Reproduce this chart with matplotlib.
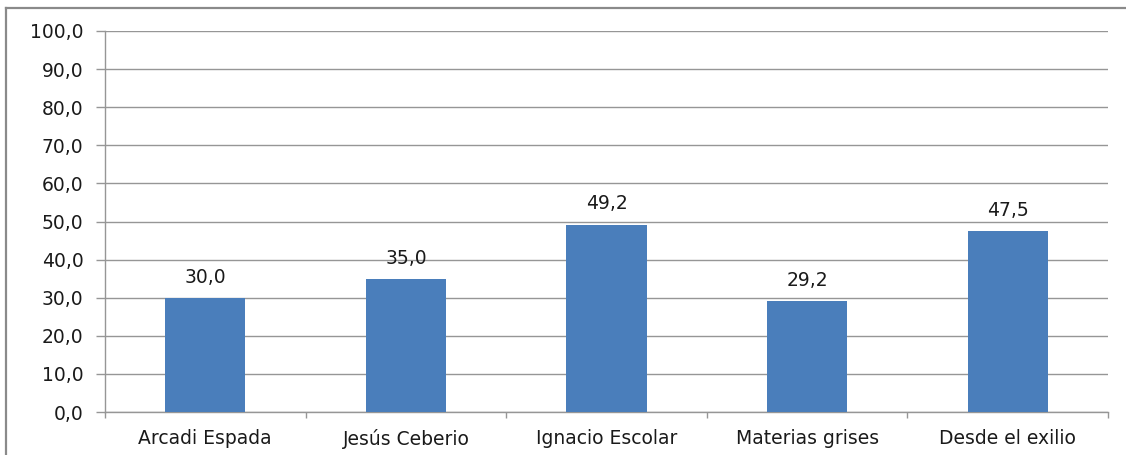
import matplotlib.pyplot as plt
from matplotlib.lines import Line2D
import numpy as np

categories = ["Arcadi Espada", "Jesús Ceberio", "Ignacio Escolar", "Materias grises", "Desde el exilio"]
values = [30.0, 35.0, 49.2, 29.2, 47.5]
yticks = [0, 10, 20, 30, 40, 50, 60, 70, 80, 90, 100]

def fmt(v):
    return f"{v:.1f}".replace(".", ",")

plt.rcParams['font.family'] = ['DejaVu Sans']
fig = plt.figure(figsize=(11.26, 4.55), dpi=100)
ax = fig.add_axes([105 / 1126, 1 - 412 / 455, (1108 - 105) / 1126, (412 - 31) / 455])

grid_c = "#969696"
text_c = "#1a1a1a"
fs = 13.5
x = np.arange(len(categories))
ax.bar(x, values, width=0.4, color="#4a7ebb", zorder=3)

for xi, v in zip(x, values):
    ax.annotate(fmt(v), (xi, v), xytext=(0, 8), textcoords="offset points",
                ha="center", va="bottom", fontsize=fs, color=text_c)

ax.set_xlim(-0.5, len(categories) - 0.5)
ax.set_ylim(0, 100)
ax.set_yticks(yticks)
ax.set_yticklabels([fmt(t) for t in yticks])
ax.yaxis.grid(True, color=grid_c, linewidth=1, zorder=0)

ax.set_xticks(x)
ax.set_xticklabels(categories)
ax.set_xticks(np.arange(len(categories) + 1) - 0.5, minor=True)
ax.tick_params(axis="x", which="major", length=0, pad=12, labelsize=fs, labelcolor=text_c)
ax.tick_params(axis="x", which="minor", length=4.5, color=grid_c, width=1)
ax.tick_params(axis="y", length=6.5, color=grid_c, width=1, pad=9, labelsize=fs, labelcolor=text_c)

for s in ["top", "right"]:
    ax.spines[s].set_visible(False)
for s in ["left", "bottom"]:
    ax.spines[s].set_color(grid_c)
    ax.spines[s].set_linewidth(1)

# outer chart frame
fig.add_artist(Line2D([6 / 1126, 6 / 1126], [0, 1 - 8 / 455], transform=fig.transFigure,
                      color="#8a8a8a", linewidth=1.6))
fig.add_artist(Line2D([6 / 1126, 1], [1 - 8 / 455, 1 - 8 / 455], transform=fig.transFigure,
                      color="#8a8a8a", linewidth=1.6))

fig.savefig("out.png", dpi=100)
